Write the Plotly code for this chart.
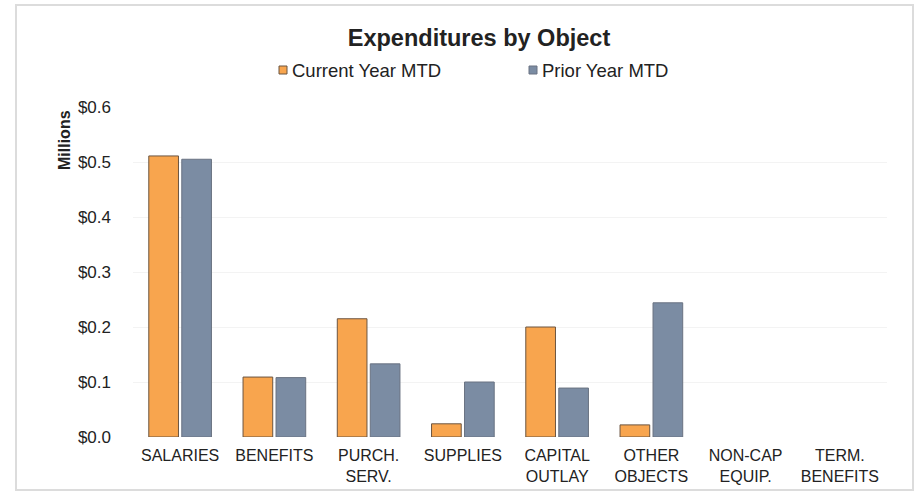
import plotly.graph_objects as go

# Expenditure categories (x axis) and month-to-date amounts, in millions of dollars
categories = ["SALARIES", "BENEFITS", "PURCH.<br>SERV.", "SUPPLIES", "CAPITAL<br>OUTLAY",
              "OTHER<br>OBJECTS", "NON-CAP<br>EQUIP.", "TERM.<br>BENEFITS"]
current_year_mtd = [0.511, 0.109, 0.215, 0.024, 0.200, 0.022, 0.0, 0.0]
prior_year_mtd = [0.505, 0.108, 0.133, 0.100, 0.089, 0.244, 0.0, 0.0]
series_names = ["Current Year MTD", "Prior Year MTD"]

y_tick_values = [0.0, 0.1, 0.2, 0.3, 0.4, 0.5, 0.6]
y_tick_labels = ["$0.0", "$0.1", "$0.2", "$0.3", "$0.4", "$0.5", "$0.6"]

FONT = "Liberation Sans, Arial, sans-serif"
TEXT = "#222222"
ORANGE, ORANGE_EDGE = "#F8A54E", "#6b5540"
SLATE, SLATE_EDGE = "#7B8CA3", "#6a7382"

# plot area in pixels: x 133..887, y 107..437
PL, PR, PT, PB = 133, 887, 107, 437


def px_x(x):
    return (x - PL) / (PR - PL)


def px_y(y):
    return (PB - y) / (PB - PT)


def edge_widths(values):
    # empty categories get no outline so nothing is drawn for them
    return [1 if v > 0 else 0 for v in values]


fig = go.Figure()
fig.add_trace(go.Bar(
    name=series_names[0], x=categories, y=current_year_mtd,
    marker=dict(color=ORANGE, line=dict(color=ORANGE_EDGE, width=edge_widths(current_year_mtd))),
))
fig.add_trace(go.Bar(
    name=series_names[1], x=categories, y=prior_year_mtd,
    marker=dict(color=SLATE, line=dict(color=SLATE_EDGE, width=edge_widths(prior_year_mtd))),
))

# legend: small swatches followed by their labels, centred under the title
legend_items = [(279, ORANGE, ORANGE_EDGE), (529, SLATE, SLATE_EDGE)]
shapes = [dict(type="rect", xref="paper", yref="paper",
               x0=px_x(16), x1=px_x(913), y0=px_y(490), y1=px_y(5),
               line=dict(color="#dcdcdc", width=2), layer="below")]
annotations = [dict(text="<b>Millions</b>", textangle=-90, xref="paper", yref="paper",
                    x=px_x(64), y=px_y(140), xanchor="center", yanchor="middle",
                    showarrow=False, font=dict(size=16, color=TEXT))]
for name, (sx, fill, edge) in zip(series_names, legend_items):
    shapes.append(dict(type="rect", xref="paper", yref="paper",
                       x0=px_x(sx), x1=px_x(sx + 8), y0=px_y(74), y1=px_y(66),
                       fillcolor=fill, line=dict(color=edge, width=1)))
    annotations.append(dict(text=name, xref="paper", yref="paper",
                            x=px_x(sx + 11), y=px_y(70), xanchor="left", yanchor="middle",
                            showarrow=False, font=dict(size=18.5, color=TEXT)))

fig.update_layout(
    width=917, height=499,
    margin=dict(l=PL, r=917 - PR, t=PT, b=499 - PB),
    paper_bgcolor="white", plot_bgcolor="white",
    barmode="group", bargap=0.3, bargroupgap=0.1,
    showlegend=False,
    font=dict(family=FONT, color=TEXT),
    title=dict(text="<b>Expenditures by Object</b>", x=479 / 917, xanchor="center",
               y=1 - 38 / 499, yanchor="middle", font=dict(size=23.5, color=TEXT)),
    xaxis=dict(showgrid=False, showline=False, ticks="", tickfont=dict(size=16, color=TEXT),
               ticklabelstandoff=7),
    yaxis=dict(range=[0, 0.6], tickvals=y_tick_values, ticktext=y_tick_labels,
               showgrid=True, gridcolor="#f3f3f3", gridwidth=1, zeroline=False,
               showline=False, ticks="", tickfont=dict(size=17, color=TEXT),
               ticklabelstandoff=21),
    annotations=annotations,
    shapes=shapes,
)

fig.write_html("out.html")
